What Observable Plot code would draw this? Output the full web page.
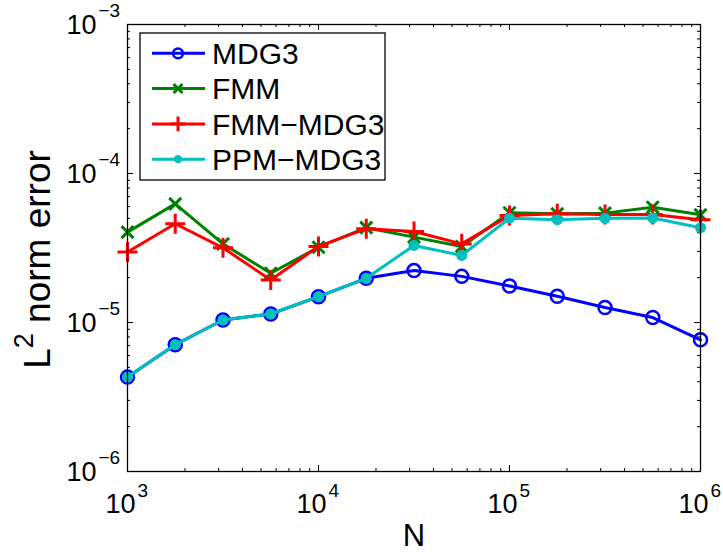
<!DOCTYPE html>
<html><head><meta charset="utf-8">
<script src="https://cdn.jsdelivr.net/npm/d3@7"></script>
<script src="https://cdn.jsdelivr.net/npm/@observablehq/plot@0.6"></script>
<style>
body{margin:0;background:#fff;}
svg{font-family:"Liberation Sans",Arial,Helvetica,sans-serif;}
</style>
</head><body><div id="chart"></div>
<script>
// ---- data ----
const N = [1000, 1778, 3162, 5623, 10000, 17783, 31623, 56234, 100000, 177828, 316228, 562341, 1000000];
const mdg3    = [4.3e-6, 7.1e-6, 1.04e-5, 1.14e-5, 1.49e-5, 1.98e-5, 2.23e-5, 2.04e-5, 1.76e-5, 1.50e-5, 1.26e-5, 1.08e-5, 7.65e-6];
const fmm     = [4.04e-5, 6.25e-5, 3.37e-5, 2.14e-5, 3.2e-5, 4.33e-5, 3.74e-5, 3.24e-5, 5.45e-5, 5.36e-5, 5.42e-5, 5.94e-5, 5.28e-5];
const fmmMdg3 = [2.97e-5, 4.6e-5, 3.17e-5, 1.93e-5, 3.24e-5, 4.26e-5, 4.08e-5, 3.37e-5, 5.22e-5, 5.36e-5, 5.31e-5, 5.31e-5, 4.89e-5];
const ppmMdg3 = [4.3e-6, 7.1e-6, 1.04e-5, 1.14e-5, 1.49e-5, 1.98e-5, 3.29e-5, 2.82e-5, 5.01e-5, 4.9e-5, 5.0e-5, 5.02e-5, 4.33e-5];
const seriesNames = ["MDG3", "FMM", "FMM\u2212MDG3", "PPM\u2212MDG3"];
const xMajor = [1e3, 1e4, 1e5, 1e6];
const xExp = ["3", "4", "5", "6"];
const yMajor = [1e-6, 1e-5, 1e-4, 1e-3];
const yExp = ["\u22126", "\u22125", "\u22124", "\u22123"];
const xLabel = "N";

// ---- layout / style ----
const W = 723, H = 553, mL = 127, mR = 23, mT = 24, mB = 82;
const innerW = W - mL - mR, innerH = H - mT - mB;
const styles = [
  {color: "#0000ff", symbol: "circle", r: 6.5, fill: "none", stroke: "#0000ff", sw: 2.5},
  {color: "#008000", symbol: "times", r: 5.5, fill: "none", stroke: "#008000", sw: 3},
  {color: "#ff0000", symbol: "plus", r: 6.5, fill: "none", stroke: "#ff0000", sw: 3},
  {color: "#00bfbf", symbol: "circle", r: 5.5, fill: "#00bfbf", stroke: "none", sw: 0}
];
const allValues = [mdg3, fmm, fmmMdg3, ppmMdg3];
const series = seriesNames.map((name, i) => ({name, values: allValues[i], style: styles[i]}));

const minor = (decades) => decades.flatMap(d => [2,3,4,5,6,7,8,9].map(m => m * d));
const xMinor = minor([1e3, 1e4, 1e5]);
const yMinor = minor([1e-6, 1e-5, 1e-4]);

const marks = [];
// ticks (inward, all four sides)
const majLen = 6, minLen = 3;
for (const [vals, len] of [[xMajor, majLen], [xMinor, minLen]]) {
  marks.push(Plot.tickX(vals, {x: d => d, insetTop: innerH - len, stroke: "black", strokeWidth: 1}));
  marks.push(Plot.tickX(vals, {x: d => d, insetBottom: innerH - len, stroke: "black", strokeWidth: 1}));
}
for (const [vals, len] of [[yMajor, majLen], [yMinor, minLen]]) {
  marks.push(Plot.tickY(vals, {y: d => d, insetRight: innerW - len, stroke: "black", strokeWidth: 1}));
  marks.push(Plot.tickY(vals, {y: d => d, insetLeft: innerW - len, stroke: "black", strokeWidth: 1}));
}
// data
for (const s of series) {
  const data = N.map((n, i) => ({n, v: s.values[i]}));
  marks.push(Plot.line(data, {x: "n", y: "v", stroke: s.style.color, strokeWidth: 3}));
  marks.push(Plot.dot(data, {x: "n", y: "v", symbol: s.style.symbol, r: s.style.r,
    fill: s.style.fill, stroke: s.style.stroke, strokeWidth: s.style.sw}));
}
marks.push(Plot.frame({stroke: "black", strokeWidth: 1.3}));
// tick labels
marks.push(Plot.text(xMajor, {x: d => d, frameAnchor: "bottom", text: () => "10", textAnchor: "end",
  lineAnchor: "top", dx: 8, dy: 22, fontSize: 27, fill: "black"}));
marks.push(Plot.text(xMajor, {x: d => d, frameAnchor: "bottom", text: (d, i) => xExp[i], textAnchor: "start",
  lineAnchor: "top", dx: 10, dy: 12, fontSize: 19, fill: "black"}));
marks.push(Plot.text(yMajor, {y: d => d, frameAnchor: "left", text: () => "10", textAnchor: "end",
  lineAnchor: "middle", dx: -31, dy: 1, fontSize: 27, fill: "black"}));
marks.push(Plot.text(yMajor, {y: d => d, frameAnchor: "left", text: (d, i) => yExp[i], textAnchor: "start",
  lineAnchor: "middle", dx: -29, dy: -14, fontSize: 19, fill: "black"}));
// x axis title
marks.push(Plot.text([xLabel], {frameAnchor: "bottom", text: d => d, lineAnchor: "bottom", dy: 74, fontSize: 31, fill: "black"}));

const plot = Plot.plot({
  width: W, height: H,
  marginLeft: mL, marginRight: mR, marginTop: mT, marginBottom: mB,
  x: {type: "log", domain: [1e3, 1e6], axis: null},
  y: {type: "log", domain: [1e-6, 1e-3], axis: null},
  style: {fontFamily: "'Liberation Sans', Arial, Helvetica, sans-serif", background: "white", overflow: "visible"},
  marks
});
document.getElementById("chart").appendChild(plot);

// y axis title with superscript
const svg = d3.select(plot);
const yt = svg.append("text")
  .attr("transform", `translate(50,${mT + innerH / 2 + 12}) rotate(-90)`)
  .attr("text-anchor", "middle")
  .attr("font-size", 37)
  .attr("fill", "black");
yt.append("tspan").text("L");
yt.append("tspan").attr("font-size", 27).attr("dy", -17).text("2");
yt.append("tspan").attr("dy", 17).text(" norm error");

// legend
const lg = svg.append("g");
lg.append("rect").attr("x", 140).attr("y", 33).attr("width", 245).attr("height", 147)
  .attr("fill", "white").attr("stroke", "black").attr("stroke-width", 1.3);
const symMap = {circle: d3.symbolCircle, times: d3.symbolTimes, plus: d3.symbolPlus};
series.forEach((s, i) => {
  const cy = 53.3 + i * 35.3;
  lg.append("line").attr("x1", 152).attr("x2", 205).attr("y1", cy).attr("y2", cy)
    .attr("stroke", s.style.color).attr("stroke-width", 3);
  const r = s.style.r * 0.75;
  lg.append("path").attr("d", d3.symbol(symMap[s.style.symbol], Math.PI * r * r)())
    .attr("transform", `translate(178,${cy})`)
    .attr("fill", s.style.fill).attr("stroke", s.style.stroke).attr("stroke-width", s.style.sw);
  lg.append("text").attr("x", 212).attr("y", cy).attr("dy", "0.36em")
    .attr("text-anchor", "start")
    .attr("font-size", 30).attr("fill", "black").text(s.name);
});
</script>
</body></html>
